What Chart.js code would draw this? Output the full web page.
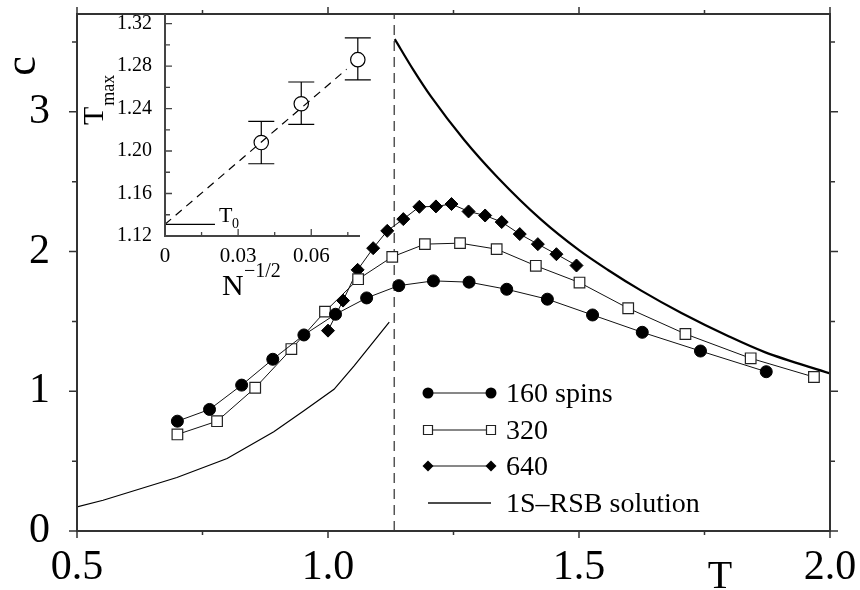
<!DOCTYPE html>
<html lang="en">
<head>
<meta charset="UTF-8">
<title>Specific heat c vs T</title>
<script src="https://cdn.jsdelivr.net/npm/chart.js"></script>
<style>
    html, body { margin: 0; padding: 0; background: #fff; }
    .wrap { position: relative; width: 860px; height: 590px; }
    .wrap canvas { position: absolute; left: 0; top: 0; }
</style>
</head>
<body>
<div class="wrap">
    <canvas id="mainChart" width="860" height="590"></canvas>
    <canvas id="insetChart" width="400" height="310"></canvas>
</div>
<script>
// ---- main plot data: specific heat c(T) ----
const t160 = [0.70, 0.764, 0.828, 0.890, 0.952, 1.015, 1.077, 1.141, 1.21, 1.281, 1.356, 1.437, 1.527, 1.626, 1.742, 1.873];
const c160 = [0.786, 0.870, 1.044, 1.229, 1.403, 1.551, 1.668, 1.756, 1.790, 1.781, 1.730, 1.659, 1.546, 1.422, 1.288, 1.140];

const t320 = [0.70, 0.779, 0.855, 0.927, 0.994, 1.060, 1.128, 1.193, 1.263, 1.336, 1.414, 1.501, 1.598, 1.712, 1.842, 1.968];
const c320 = [0.691, 0.786, 1.025, 1.302, 1.570, 1.802, 1.962, 2.053, 2.060, 2.017, 1.898, 1.778, 1.594, 1.410, 1.236, 1.102];

const t640 = [1.0, 1.030, 1.059, 1.090, 1.118, 1.150, 1.182, 1.215, 1.246, 1.280, 1.313, 1.346, 1.382, 1.418, 1.455, 1.495];
const c640 = [1.434, 1.649, 1.869, 2.024, 2.148, 2.232, 2.320, 2.323, 2.340, 2.287, 2.258, 2.211, 2.125, 2.053, 1.981, 1.900];

// 1S-RSB solution, below and above the transition
const tRsbLow = [0.5, 0.552, 0.699, 0.799, 0.892, 0.952, 1.012, 1.052, 1.122];
const cRsbLow = [0.172, 0.220, 0.383, 0.519, 0.710, 0.860, 1.014, 1.181, 1.494];
const tRsbHigh = [1.133, 1.17, 1.205, 1.271, 1.338, 1.424, 1.50, 1.557, 1.624, 1.704, 1.80, 1.870, 2.0];
const cRsbHigh = [3.52, 3.30, 3.11, 2.80, 2.53, 2.23, 2.01, 1.87, 1.72, 1.56, 1.39, 1.28, 1.128];

const tCrit = 1.132;

const xTickVals = [0.5, 1.0, 1.5, 2.0];
const xTickLabels = ['0.5', '1.0', '1.5', '2.0'];
const xMinorVals = [0.75, 1.25, 1.75];
const yTickVals = [0, 1, 2, 3];
const yTickLabels = ['0', '1', '2', '3'];
const yMinorVals = [0.5, 1.5, 2.5, 3.5];

const legendLabels = ['160 spins', '320', '640', '1S\u2013RSB solution'];

// ---- inset data: T_max vs N^(-1/2) ----
const insetX = [0.0395, 0.0559, 0.0791];
const insetT = [1.208, 1.2445, 1.286];
const insetErrLo = [1.188, 1.225, 1.267];
const insetErrHi = [1.228, 1.265, 1.3065];
const fitX = [0, 0.0745];
const fitT = [1.131, 1.277];
const t0X = [0, 0.0205];
const t0T = [1.131, 1.131];

const insetXTicks = [0, 0.03, 0.06];
const insetXLabels = ['0', '0.03', '0.06'];
const insetXMinor = [0.015, 0.045, 0.075];
const insetYTicks = [1.12, 1.16, 1.20, 1.24, 1.28, 1.32];
const insetYLabels = ['1.12', '1.16', '1.20', '1.24', '1.28', '1.32'];
const insetYMinor = [1.14, 1.18, 1.22, 1.26, 1.30];

const SERIF = "'Liberation Serif', 'Times New Roman', serif";
const AXIS = '#333';

function toXY(xs, ys) {
    return xs.map((x, i) => ({ x: x, y: ys[i] }));
}

// keep chart area exactly where we want it (no label overhang padding)
function fixSize(prop, size) {
    return s => {
        s[prop] = size;
        s.paddingTop = 0; s.paddingBottom = 0;
        s.paddingLeft = 0; s.paddingRight = 0;
    };
}

// frame, tick marks, axis titles and legend of the main plot
const mainDecor = {
    id: 'mainDecor',
    afterDraw(chart) {
        const { ctx, chartArea: a, scales: { x, y } } = chart;
        ctx.save();
        ctx.strokeStyle = AXIS;
        ctx.lineWidth = 2;
        ctx.strokeRect(a.left, a.top, a.right - a.left, a.bottom - a.top);

        ctx.lineWidth = 1.5;
        ctx.beginPath();
        const xt = xTickVals.map(v => [v, 7]).concat(xMinorVals.map(v => [v, 4]));
        xt.forEach(([v, len]) => {
            const px = x.getPixelForValue(v);
            ctx.moveTo(px, a.bottom); ctx.lineTo(px, a.bottom + len);
            ctx.moveTo(px, a.top); ctx.lineTo(px, a.top - len);
        });
        const yt = yTickVals.map(v => [v, 8]).concat(yMinorVals.map(v => [v, 5]));
        yt.forEach(([v, len]) => {
            const py = y.getPixelForValue(v);
            ctx.moveTo(a.left, py); ctx.lineTo(a.left - len, py);
            ctx.moveTo(a.right, py); ctx.lineTo(a.right + len, py);
        });
        ctx.stroke();

        // axis titles
        ctx.fillStyle = '#000';
        ctx.font = '40px ' + SERIF;
        ctx.textAlign = 'center';
        ctx.textBaseline = 'alphabetic';
        ctx.fillText('T', 720, 588);
        ctx.save();
        ctx.translate(35, 66);
        ctx.rotate(-Math.PI / 2);
        ctx.font = '44px ' + SERIF;
        ctx.fillText('c', 0, 0);
        ctx.restore();

        // legend
        const rows = [393, 430, 466, 503];
        const x0 = 428, x1 = 491;
        ctx.textAlign = 'left';
        ctx.font = '28px ' + SERIF;
        rows.forEach((ry, i) => {
            ctx.strokeStyle = '#111';
            ctx.lineWidth = i === 3 ? 1.6 : 1;
            ctx.beginPath();
            ctx.moveTo(x0, ry); ctx.lineTo(x1, ry);
            ctx.stroke();
            [x0, x1].forEach(mx => {
                ctx.beginPath();
                if (i === 0) {
                    ctx.arc(mx, ry, 5.5, 0, Math.PI * 2);
                    ctx.fillStyle = '#000'; ctx.fill();
                } else if (i === 1) {
                    ctx.rect(mx - 4.5, ry - 4.5, 9, 9);
                    ctx.fillStyle = '#fff'; ctx.fill();
                    ctx.strokeStyle = '#222'; ctx.lineWidth = 1.2; ctx.stroke();
                } else if (i === 2) {
                    ctx.moveTo(mx, ry - 5.5); ctx.lineTo(mx + 5.5, ry);
                    ctx.lineTo(mx, ry + 5.5); ctx.lineTo(mx - 5.5, ry);
                    ctx.closePath();
                    ctx.fillStyle = '#000'; ctx.fill();
                }
            });
            ctx.fillStyle = '#000';
            ctx.fillText(legendLabels[i], 506, ry + 9);
        });
        ctx.restore();
    }
};

new Chart(document.getElementById('mainChart'), {
    type: 'line',
    data: {
        datasets: [
            { label: legendLabels[0], data: toXY(t160, c160), borderColor: '#111', borderWidth: 1,
              pointStyle: 'circle', pointRadius: 6, pointBackgroundColor: '#000', pointBorderColor: '#000', pointBorderWidth: 1 },
            { label: legendLabels[1], data: toXY(t320, c320), borderColor: '#111', borderWidth: 1,
              pointStyle: 'rect', pointRadius: 7.5, pointBackgroundColor: '#fff', pointBorderColor: '#222', pointBorderWidth: 1.2 },
            { label: legendLabels[2], data: toXY(t640, c640), borderColor: '#111', borderWidth: 1,
              pointStyle: 'rectRot', pointRadius: 6.5, pointBackgroundColor: '#000', pointBorderColor: '#000', pointBorderWidth: 1 },
            { label: 'rsb low', data: toXY(tRsbLow, cRsbLow), borderColor: '#000', borderWidth: 1.2, pointRadius: 0 },
            { label: legendLabels[3], data: toXY(tRsbHigh, cRsbHigh), borderColor: '#000', borderWidth: 2.2,
              pointRadius: 0, cubicInterpolationMode: 'monotone' },
            { label: 'Tc', data: [{ x: tCrit, y: 0 }, { x: tCrit, y: 3.7 }], borderColor: '#555', borderWidth: 1.5,
              borderDash: [10, 6], pointRadius: 0 }
        ]
    },
    options: {
        responsive: false,
        animation: false,
        events: [],
        layout: { padding: { top: 14, right: 30, left: 0, bottom: 0 } },
        plugins: { legend: { display: false }, tooltip: { enabled: false } },
        scales: {
            x: {
                type: 'linear', min: 0.5, max: 2.0,
                afterBuildTicks: s => { s.ticks = xTickVals.map(v => ({ value: v })); },
                afterFit: fixSize('height', 59),
                grid: { display: false, drawTicks: false },
                border: { display: false },
                ticks: { font: { family: SERIF, size: 42 }, color: '#000', padding: 12, maxRotation: 0, autoSkip: false,
                         callback: v => xTickLabels[xTickVals.indexOf(v)] }
            },
            y: {
                type: 'linear', min: 0, max: 3.7,
                afterBuildTicks: s => { s.ticks = yTickVals.map(v => ({ value: v })); },
                afterFit: fixSize('width', 77),
                grid: { display: false, drawTicks: false },
                border: { display: false },
                ticks: { font: { family: SERIF, size: 42 }, color: '#000', padding: 27, autoSkip: false,
                         callback: v => yTickLabels[yTickVals.indexOf(v)] }
            }
        }
    },
    plugins: [mainDecor]
});

// inset: axes, inward ticks, error bars and titles
const insetDecor = {
    id: 'insetDecor',
    beforeDatasetsDraw(chart) {
        const { ctx, scales: { x, y } } = chart;
        ctx.save();
        ctx.strokeStyle = '#000';
        ctx.lineWidth = 1.2;
        ctx.beginPath();
        insetX.forEach((v, i) => {
            const px = x.getPixelForValue(v);
            const lo = y.getPixelForValue(insetErrLo[i]);
            const hi = y.getPixelForValue(insetErrHi[i]);
            ctx.moveTo(px, lo); ctx.lineTo(px, hi);
            ctx.moveTo(px - 13, lo); ctx.lineTo(px + 13, lo);
            ctx.moveTo(px - 13, hi); ctx.lineTo(px + 13, hi);
        });
        ctx.stroke();
        ctx.restore();
    },
    afterDraw(chart) {
        const { ctx, chartArea: a, scales: { x, y } } = chart;
        ctx.save();
        ctx.strokeStyle = '#444';
        ctx.lineWidth = 2;
        ctx.beginPath();
        ctx.moveTo(a.left, a.top); ctx.lineTo(a.left, a.bottom); ctx.lineTo(a.right, a.bottom);
        ctx.stroke();

        ctx.lineWidth = 1.3;
        ctx.beginPath();
        insetXTicks.map(v => [v, 7]).concat(insetXMinor.map(v => [v, 4])).forEach(([v, len]) => {
            const px = x.getPixelForValue(v);
            ctx.moveTo(px, a.bottom); ctx.lineTo(px, a.bottom - len);
        });
        insetYTicks.map(v => [v, 7]).concat(insetYMinor.map(v => [v, 5])).forEach(([v, len]) => {
            const py = y.getPixelForValue(v);
            ctx.moveTo(a.left, py); ctx.lineTo(a.left + len, py);
        });
        ctx.stroke();

        ctx.fillStyle = '#000';
        ctx.textAlign = 'left';
        ctx.textBaseline = 'alphabetic';
        // N^-1/2
        ctx.font = '30px ' + SERIF;
        ctx.fillText('N', 222, 295);
        ctx.font = '20px ' + SERIF;
        ctx.fillText('\u22121/2', 244, 277);
        // T_0
        ctx.font = '22px ' + SERIF;
        ctx.fillText('T', 219, 222);
        ctx.font = '14px ' + SERIF;
        ctx.fillText('0', 232, 228);
        // T_max (rotated)
        ctx.translate(103, 125);
        ctx.rotate(-Math.PI / 2);
        ctx.font = '30px ' + SERIF;
        ctx.fillText('T', 0, 0);
        const tw = ctx.measureText('T').width;
        ctx.font = '18px ' + SERIF;
        ctx.fillText('max', tw + 1, 11);
        ctx.restore();
    }
};

new Chart(document.getElementById('insetChart'), {
    type: 'line',
    data: {
        datasets: [
            { data: toXY(insetX, insetT), showLine: false, order: 2, clip: false, pointStyle: 'circle', pointRadius: 7.2,
              pointBackgroundColor: '#fff', pointBorderColor: '#000', pointBorderWidth: 1.2 },
            { data: toXY(fitX, fitT), order: 0, borderColor: '#000', borderWidth: 1.2, borderDash: [8, 6], pointRadius: 0 },
            { data: toXY(t0X, t0T), order: 1, borderColor: '#000', borderWidth: 1.2, pointRadius: 0 }
        ]
    },
    options: {
        responsive: false,
        animation: false,
        events: [],
        layout: { padding: { top: 14, right: 40, left: 0, bottom: 0 } },
        plugins: { legend: { display: false }, tooltip: { enabled: false } },
        scales: {
            x: {
                type: 'linear', min: 0, max: 0.08,
                afterBuildTicks: s => { s.ticks = insetXTicks.map(v => ({ value: v })); },
                afterFit: fixSize('height', 74),
                grid: { display: false, drawTicks: false },
                border: { display: false },
                ticks: { font: { family: SERIF, size: 21 }, color: '#000', padding: 8, maxRotation: 0, autoSkip: false,
                         callback: v => insetXLabels[insetXTicks.indexOf(v)] }
            },
            y: {
                type: 'linear', min: 1.12, max: 1.329,
                afterBuildTicks: s => { s.ticks = insetYTicks.map(v => ({ value: v })); },
                afterFit: fixSize('width', 165),
                grid: { display: false, drawTicks: false },
                border: { display: false },
                ticks: { font: { family: SERIF, size: 20 }, color: '#000', padding: 13, autoSkip: false,
                         callback: v => insetYLabels[insetYTicks.indexOf(v)] }
            }
        }
    },
    plugins: [insetDecor]
});
</script>
</body>
</html>
